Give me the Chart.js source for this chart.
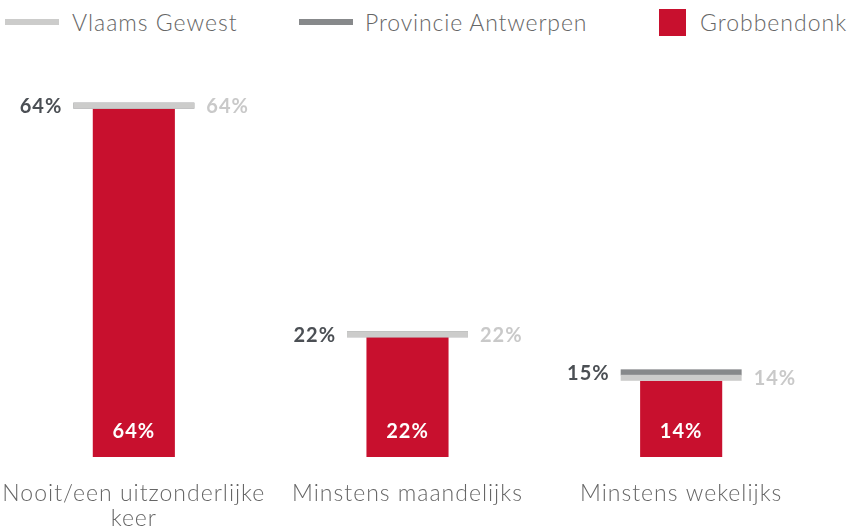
<!DOCTYPE html>
<html>
<head>
<meta charset="utf-8">
<script src="https://cdn.jsdelivr.net/npm/chart.js@4"></script>
<style>
    body { margin: 0; background: #fff; width: 852px; height: 530px; overflow: hidden; position: relative; }
    .legend { position: absolute; top: 0; left: 0; width: 852px; height: 46px; font-family: Lato, sans-serif; font-weight: 300; font-size: 23px; letter-spacing: 1px; color: #666; }
    .legend span { position: absolute; }
    .swatch { height: 6px; top: 19px; }
    .box { width: 27px; height: 27px; top: 9px; }
    .txt { top: 7px; line-height: 30px; white-space: nowrap; }
    .wrap { position: absolute; left: -3px; top: 0; width: 821px; height: 530px; }
</style>
</head>
<body>
<div class="legend">
    <span class="swatch" style="left:5px;width:54px;background:#cccccb"></span>
    <span class="txt" style="left:72px">Vlaams Gewest</span>
    <span class="swatch" style="left:299px;width:54px;background:#87898b"></span>
    <span class="txt" style="left:365px;letter-spacing:0.85px">Provincie Antwerpen</span>
    <span class="box" style="left:659px;background:#c8102e"></span>
    <span class="txt" style="left:700px">Grobbendonk</span>
</div>
<div class="wrap"><canvas id="grafica"></canvas></div>
<script>
// categorieen en waarden (in %)
const categorieen = [["Nooit/een uitzonderlijke", "keer"], "Minstens maandelijks", "Minstens wekelijks"];
const grobbendonk = [64, 22, 14];
const vlaamsGewest = [64, 22, 14];
const provincie = [64, 22, 15];

const ROOD = "#c8102e";
const LICHTGRIJS = "#cccccb";
const DONKERGRIJS = "#87898b";

// wat extra letterafstand voor de aslabels
const letterAfstand = {
    id: "letterAfstand",
    beforeDraw(chart) {
        chart.ctx.letterSpacing = "1px";
    }
};

// plugin voor de referentielijnen en de percentages
const referentieLijnen = {
    id: "referentieLijnen",
    afterDatasetsDraw(chart) {
        const ctx = chart.ctx;
        const x = chart.scales.x;
        const y = chart.scales.y;
        const breedte = (x.width / categorieen.length) * 0.442;
        const dikte = 6;

        ctx.save();
        ctx.font = "bold 20px Lato, sans-serif";
        ctx.letterSpacing = "1px";
        ctx.textBaseline = "middle";

        categorieen.forEach((c, i) => {
            const cx = x.getPixelForValue(i);
            const links = cx - breedte / 2;
            const rechts = cx + breedte / 2;
            const yProv = y.getPixelForValue(provincie[i]) - dikte / 2;
            const yVl = y.getPixelForValue(vlaamsGewest[i]) - dikte / 2;

            // provincie eerst, Vlaams Gewest erover
            ctx.fillStyle = DONKERGRIJS;
            ctx.fillRect(links, yProv - dikte / 2, breedte, dikte);
            ctx.fillStyle = LICHTGRIJS;
            ctx.fillRect(links, yVl - dikte / 2, breedte, dikte);

            ctx.textAlign = "right";
            ctx.fillStyle = "#4b4f54";
            ctx.fillText(provincie[i] + "%", links - 11, yProv + 1);
            ctx.textAlign = "left";
            ctx.fillStyle = "#c9c9c9";
            ctx.fillText(vlaamsGewest[i] + "%", rechts + 12, yVl + 1);

            // waarde onderaan in de balk
            ctx.textAlign = "center";
            ctx.fillStyle = "#ffffff";
            ctx.fillText(grobbendonk[i] + "%", cx, y.getPixelForValue(0) - 25);
        });
        ctx.restore();
    }
};

new Chart(document.getElementById("grafica"), {
    type: "bar",
    data: {
        labels: categorieen,
        datasets: [{
            label: "Grobbendonk",
            data: grobbendonk,
            backgroundColor: ROOD,
            barPercentage: 0.3,
            categoryPercentage: 1
        }]
    },
    options: {
        responsive: true,
        maintainAspectRatio: false,
        animation: false,
        events: [],
        layout: { padding: { top: 76, left: 0, right: 0, bottom: 0 } },
        plugins: { legend: { display: false }, tooltip: { enabled: false } },
        scales: {
            x: {
                grid: { display: false },
                border: { display: false },
                ticks: {
                    color: "#666",
                    padding: 16,
                    maxRotation: 0,
                    font: { family: "Lato, sans-serif", weight: 300, size: 23, lineHeight: 1.1 }
                },
                afterFit(scale) {
                    scale.height = 73;
                    scale.paddingLeft = 0;
                    scale.paddingRight = 0;
                }
            },
            y: {
                display: false,
                min: 0,
                max: 70
            }
        }
    },
    plugins: [letterAfstand, referentieLijnen]
});
</script>
</body>
</html>
